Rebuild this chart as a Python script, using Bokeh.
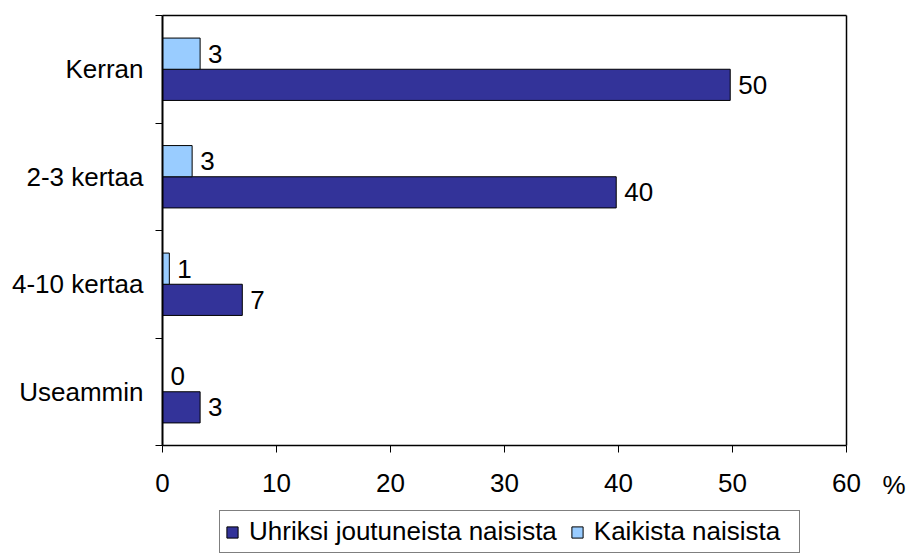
import numpy as np
from bokeh.plotting import figure
from bokeh.models import (ColumnDataSource, Range1d, FixedTicker, Label,
                          Legend, LegendItem, LinearAxis)
from bokeh.core.properties import value
from bokeh.embed import file_html
from bokeh.resources import INLINE

# ---- data ----
categories = ["Kerran", "2-3 kertaa", "4-10 kertaa", "Useammin"]
uhriksi = [49.8, 39.8, 7.0, 3.3]          # Uhriksi joutuneista naisista
kaikista = [3.3, 2.6, 0.6, 0.0]           # Kaikista naisista
series_names = ["Uhriksi joutuneista naisista", "Kaikista naisista"]
x_ticks = [0, 10, 20, 30, 40, 50, 60]
unit_label = "%"

# ---- styles / layout (pixels on the canvas) ----
FONT = "Liberation Sans"
FS = "26px"
DARK = "#333399"
LIGHT = "#99CCFF"
BAR_H = 0.29
W, H = 907, 556
PLOT_L, PLOT_R = 162, 846      # plot-area edges, canvas px
PLOT_T, PLOT_B = 15, 445

n = len(categories)
xmin, xmax = x_ticks[0], x_ticks[-1]
sx = (PLOT_R - PLOT_L) / (xmax - xmin)
sy = (PLOT_B - PLOT_T) / n
x_range = Range1d(xmin - PLOT_L / sx, xmax + (W - PLOT_R) / sx)
y_range = Range1d(-(H - PLOT_B) / sy, n + PLOT_T / sy)

ypos = [n - 1 - i + 0.5 for i in range(n)]

src_dark = ColumnDataSource(dict(
    y=[y - BAR_H / 2 for y in ypos], x=uhriksi,
    label=[f"{v:.0f}" for v in uhriksi]))
src_light = ColumnDataSource(dict(
    y=[y + BAR_H / 2 for y in ypos], x=kaikista,
    label=[f"{v:.0f}" for v in kaikista]))

p = figure(width=W, height=H, x_range=x_range, y_range=y_range,
           output_backend="svg", toolbar_location=None,
           x_axis_location=None, y_axis_location=None,
           min_border=0, min_border_left=0, min_border_right=0,
           min_border_top=0, min_border_bottom=0)
p.xgrid.visible = False
p.ygrid.visible = False
p.outline_line_color = None
p.background_fill_color = "white"
p.border_fill_color = "white"

r_dark = p.hbar(y="y", right="x", left=0, height=BAR_H, source=src_dark,
                fill_color=DARK, line_color="black", line_width=1)
r_light = p.hbar(y="y", right="x", left=0, height=BAR_H, source=src_light,
                 fill_color=LIGHT, line_color="black", line_width=1)

for src in (src_dark, src_light):
    p.text(x="x", y="y", text="label", source=src, x_offset=8,
           text_align="left", text_baseline="middle",
           text_font=value(FONT), text_font_size=FS, text_color="black")

# x axis at y = 0
xa = LinearAxis(fixed_location=0, bounds=(xmin, xmax),
                ticker=FixedTicker(ticks=x_ticks))
xa.major_tick_out = 7
xa.major_tick_in = 0
xa.minor_tick_line_color = None
xa.major_tick_line_color = "black"
xa.axis_line_color = "black"
xa.axis_line_width = 1.5
xa.major_label_text_font = FONT
xa.major_label_text_font_size = FS
xa.major_label_text_color = "black"
xa.major_label_standoff = 21
p.add_layout(xa, "below")

# y axis at x = 0: labels at category centres, ticks at boundaries
ya = LinearAxis(fixed_location=0, bounds=(0, n),
                ticker=FixedTicker(ticks=ypos, minor_ticks=list(range(n + 1))))
ya.major_label_overrides = {y: c for y, c in zip(ypos, categories)}
ya.major_tick_out = 0
ya.major_tick_in = 0
ya.minor_tick_out = 7
ya.minor_tick_in = 0
ya.minor_tick_line_color = "black"
ya.axis_line_color = "black"
ya.axis_line_width = 2
ya.major_label_text_font = FONT
ya.major_label_text_font_size = FS
ya.major_label_text_color = "black"
ya.major_label_standoff = 12
p.add_layout(ya, "left")

# plot-area border lines (top and right)
top = LinearAxis(fixed_location=n, bounds=(xmin, xmax),
                 ticker=FixedTicker(ticks=[]))
right = LinearAxis(fixed_location=xmax, bounds=(0, n),
                   ticker=FixedTicker(ticks=[]))
for ax in (top, right):
    ax.major_tick_line_color = None
    ax.minor_tick_line_color = None
    ax.major_label_text_font_size = "0px"
    ax.axis_line_color = "black"
    ax.axis_line_width = 1.5
p.add_layout(top, "above")
p.add_layout(right, "right")

p.add_layout(Label(x=xmax, y=0, text=unit_label, x_offset=36,
                   y_offset=-24, text_baseline="top",
                   text_font=FONT, text_font_size=FS, text_color="black"))

legend = Legend(items=[LegendItem(label=series_names[0], renderers=[r_dark]),
                       LegendItem(label=series_names[1], renderers=[r_light])],
                orientation="horizontal", location=(219, 3),
                label_text_font=FONT, label_text_font_size=FS,
                label_text_color="black",
                label_height=18, label_width=200,
                glyph_width=14, glyph_height=14, label_standoff=10,
                spacing=13, padding=5, margin=0,
                border_line_color="black", border_line_width=1,
                background_fill_alpha=1)
p.add_layout(legend)

open("out.html", "w").write(file_html(p, INLINE))
